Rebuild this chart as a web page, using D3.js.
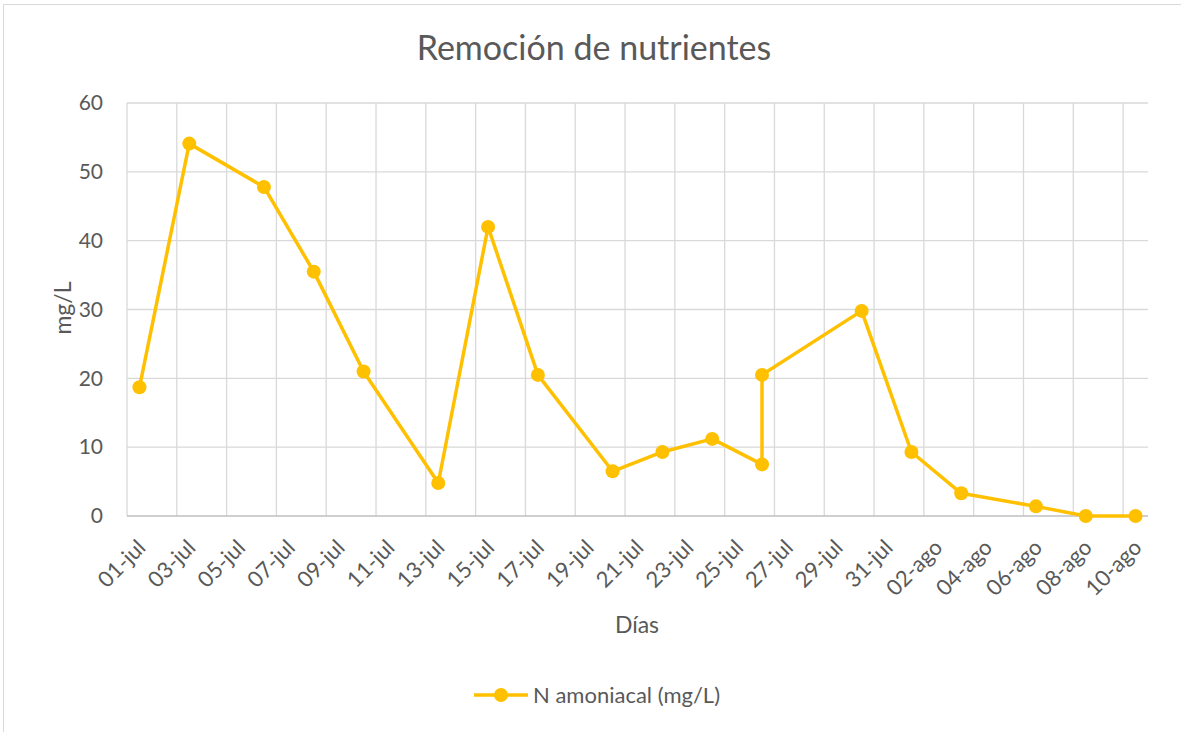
<!DOCTYPE html>
<html>
<head>
<meta charset="utf-8">
<script src="https://cdn.jsdelivr.net/npm/d3@7"></script>
<style>
  body { margin: 0; background: #fff; }
  text { font-family: Lato, "Open Sans", sans-serif; fill: #595959; }
</style>
</head>
<body>
<script>
// sampling dates and measured values
const dates = ['2023-07-01', '2023-07-03', '2023-07-06', '2023-07-08', '2023-07-10',
  '2023-07-13', '2023-07-15', '2023-07-17', '2023-07-20', '2023-07-22', '2023-07-24',
  '2023-07-26', '2023-07-26', '2023-07-30', '2023-08-01', '2023-08-03', '2023-08-06',
  '2023-08-08', '2023-08-10'];
const nAmoniacal = [18.7, 54.1, 47.8, 35.5, 21.0, 4.8, 42.0, 20.5, 6.5, 9.3, 11.2,
  7.5, 20.5, 29.8, 9.3, 3.3, 1.4, 0, 0];
const yTicks = [0, 10, 20, 30, 40, 50, 60];
const meses = ['ene', 'feb', 'mar', 'abr', 'may', 'jun', 'jul', 'ago', 'sep', 'oct', 'nov', 'dic'];

const width = 1181, height = 732;
const margin = {top: 103, right: 33, bottom: 216, left: 127};

const parse = d3.timeParse('%Y-%m-%d');
const data = dates.map((d, i) => ({date: parse(d), value: nAmoniacal[i]}));

const start = parse('2023-07-01');
const end = d3.timeDay.offset(parse('2023-08-10'), 1);

// each day is a slot, points sit at the middle of their slot
const xScale = d3.scaleTime()
  .domain([start, end])
  .range([margin.left, width - margin.right]);
const halfDay = d => d3.timeHour.offset(d, 12);

const yScale = d3.scaleLinear()
  .domain([0, 60])
  .range([height - margin.bottom, margin.top]);

const svg = d3.select('body')
  .append('svg')
  .attr('width', width)
  .attr('height', height);

// chart border
svg.append('rect')
  .attr('x', 3.5).attr('y', 4.5)
  .attr('width', width).attr('height', height)
  .attr('fill', 'none')
  .attr('stroke', '#d9d9d9');

const xTicks = d3.timeDay.range(start, end, 2);

// horizontal grid
svg.append('g')
  .selectAll('line')
  .data(yTicks.filter(d => d > 0))
  .join('line')
  .attr('x1', margin.left).attr('x2', width - margin.right)
  .attr('y1', d => yScale(d)).attr('y2', d => yScale(d))
  .attr('stroke', '#d9d9d9').attr('stroke-width', 1.3);

// vertical grid
svg.append('g')
  .selectAll('line')
  .data(xTicks)
  .join('line')
  .attr('x1', d => xScale(d)).attr('x2', d => xScale(d))
  .attr('y1', margin.top).attr('y2', height - margin.bottom)
  .attr('stroke', '#d9d9d9').attr('stroke-width', 1.3);

// x axis line
svg.append('line')
  .attr('x1', margin.left).attr('x2', width - margin.right)
  .attr('y1', yScale(0)).attr('y2', yScale(0))
  .attr('stroke', '#bfbfbf').attr('stroke-width', 1.5);

// y tick labels
const yAxis = d3.axisLeft(yScale).tickValues(yTicks).tickSize(0).tickPadding(24);
const yG = svg.append('g')
  .attr('transform', `translate(${margin.left},0)`)
  .call(yAxis);
yG.select('.domain').remove();
yG.selectAll('text')
  .style('font-size', '21px')
  .style('fill', '#595959')
  .style('font-family', 'Lato, "Open Sans", sans-serif');

// x tick labels, rotated
const fmt = d => d3.timeFormat('%d')(d) + '-' + meses[d.getMonth()];
svg.append('g')
  .selectAll('text')
  .data(xTicks)
  .join('text')
  .attr('transform', d => `translate(${xScale(d) + 20},${yScale(0) + 33}) rotate(-45)`)
  .attr('text-anchor', 'end')
  .style('font-size', '22px')
  .text(fmt);

// the series
const line = d3.line()
  .x(d => xScale(halfDay(d.date)))
  .y(d => yScale(d.value));

svg.append('path')
  .datum(data)
  .attr('d', line)
  .attr('fill', 'none')
  .attr('stroke', '#ffc000')
  .attr('stroke-width', 3.5)
  .attr('stroke-linejoin', 'round');

svg.append('g')
  .selectAll('circle')
  .data(data)
  .join('circle')
  .attr('cx', d => xScale(halfDay(d.date)))
  .attr('cy', d => yScale(d.value))
  .attr('r', 7)
  .attr('fill', '#ffc000');

// title
svg.append('text')
  .attr('x', 594).attr('y', 60)
  .attr('text-anchor', 'middle')
  .style('font-size', '34px')
  .text('Remoción de nutrientes');

// axis titles
svg.append('text')
  .attr('transform', 'translate(71,308) rotate(-90)')
  .attr('text-anchor', 'middle')
  .style('font-size', '23px')
  .text('mg/L');

svg.append('text')
  .attr('x', 637).attr('y', 633)
  .attr('text-anchor', 'middle')
  .style('font-size', '23px')
  .text('Días');

// legend
const lg = svg.append('g').attr('transform', 'translate(474,695)');
lg.append('line')
  .attr('x1', 0).attr('x2', 54)
  .attr('stroke', '#ffc000').attr('stroke-width', 3.5);
lg.append('circle')
  .attr('cx', 27).attr('r', 7).attr('fill', '#ffc000');
lg.append('text')
  .attr('x', 59).attr('y', 8)
  .style('font-size', '22px')
  .text('N amoniacal (mg/L)');
</script>
</body>
</html>
